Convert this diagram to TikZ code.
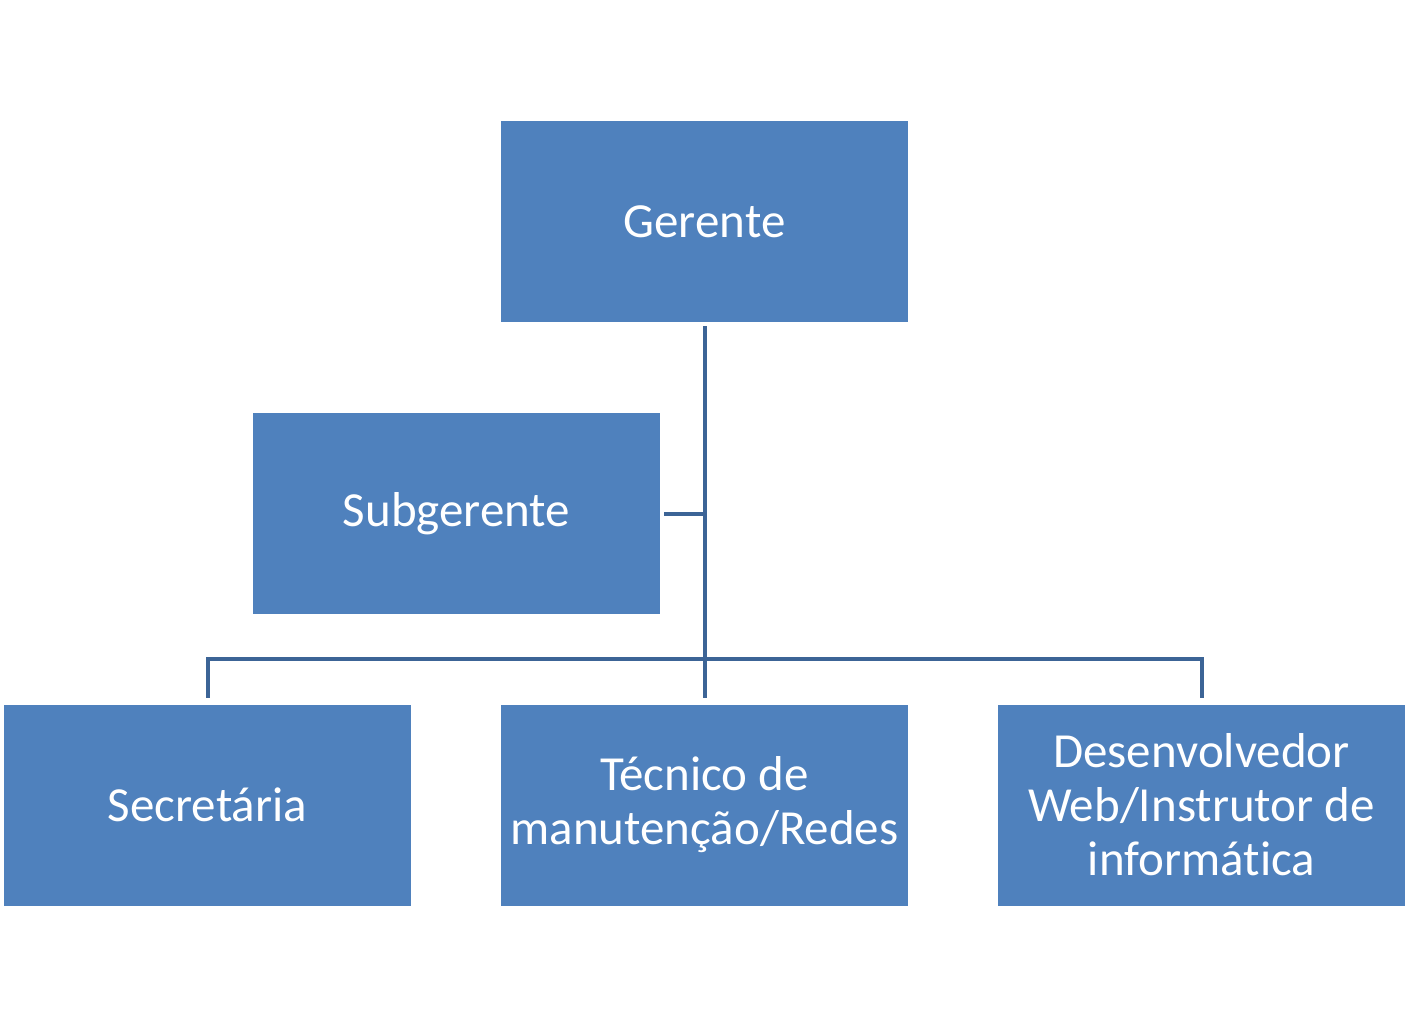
\documentclass[tikz,border=0pt]{standalone}
\usepackage{fontspec}
\setmainfont[Ligatures=NoCommon]{Carlito}
\usetikzlibrary{positioning}
\definecolor{boxblue}{HTML}{4F81BD}
\definecolor{lineblue}{HTML}{3C6496}
\tikzset{
  every node/.style={
    font=\fontsize{49}{54}\selectfont
  },
  role/.style={
    shape=rectangle,
    fill=boxblue,
    text=white,
    minimum width=407pt,
    minimum height=201pt,
    inner sep=0pt,
    align=center
  },
  link/.style={
    draw=lineblue,
    line width=4pt
  }
}

\begin{document}
\begin{tikzpicture}[x=1pt,y=-1pt]
    \useasboundingbox (0,0) rectangle (1422,1027);
    % boxes
    \node[role] (gerente) at (704.5,221.5) {Gerente};
    \node[role] (subgerente) at (456.5,513.5) {Subgerente};
    \node[role] (secretaria) at (207.5,805) {Secret\'aria};
    \node[role] (tecnico) at (704.5,805) {T\'ecnico de\\manuten\c{c}\~ao/Redes};
    \node[role] (desenvolvedor) at (1201.5,805) {Desenvolvedor\\Web/Instrutor de\\inform\'atica};
    % connectors
    \coordinate (bus) at (704.5,659);
    \draw[link] ([yshift=-4pt]gerente.south) -- ([yshift=6.5pt]tecnico.north);
    \draw[link] ([xshift=4pt]subgerente.east) -- (subgerente.east -| gerente.south);
    \draw[link] ([yshift=6.5pt]secretaria.north) |- (bus) -| ([yshift=6.5pt]desenvolvedor.north);
\end{tikzpicture}
\end{document}
